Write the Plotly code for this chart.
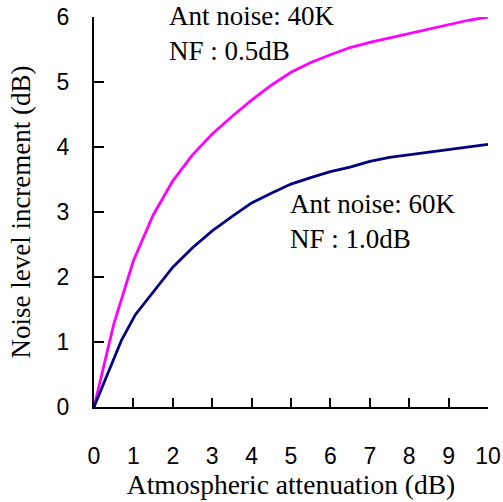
import plotly.graph_objects as go

# Data
x_40k = [0, 0.5, 1, 1.5, 2, 2.5, 3, 3.5, 4, 4.5, 5, 5.5, 6, 6.5, 7, 7.5, 8, 8.5, 9, 9.5, 10]
y_40k = [0, 1.27, 2.25, 2.95, 3.48, 3.88, 4.2, 4.47, 4.72, 4.95, 5.15, 5.3, 5.42, 5.53, 5.61, 5.68, 5.75, 5.82, 5.89, 5.95, 6.0]

x_60k = [0, 0.35, 0.7, 1.05, 1.5, 2, 2.5, 3, 3.5, 4, 4.5, 5, 5.5, 6, 6.5, 7, 7.5, 8, 8.5, 9, 9.5, 10]
y_60k = [0, 0.53, 1.03, 1.42, 1.77, 2.15, 2.45, 2.71, 2.93, 3.14, 3.29, 3.43, 3.53, 3.62, 3.69, 3.78, 3.84, 3.88, 3.92, 3.97, 4.01, 4.04]

x_ticks = [0, 1, 2, 3, 4, 5, 6, 7, 8, 9, 10]
y_ticks = [0, 1, 2, 3, 4, 5, 6]

label_40k = "Ant noise: 40K<br>NF : 0.5dB"
label_60k = "Ant noise: 60K<br>NF : 1.0dB"

serif = "Liberation Serif, Times New Roman, serif"
sans = "Liberation Sans, Arial, sans-serif"

fig = go.Figure()
fig.add_trace(go.Scatter(x=x_40k, y=y_40k, mode="lines",
                         line=dict(color="#ff00ff", width=2.8), showlegend=False))
fig.add_trace(go.Scatter(x=x_60k, y=y_60k, mode="lines",
                         line=dict(color="#000080", width=2.8), showlegend=False))

fig.add_annotation(x=0.186, y=1.045, xref="paper", yref="paper", text=label_40k, showarrow=False,
                   xanchor="left", yanchor="top", align="left",
                   font=dict(family=serif, size=27, color="black"))
fig.add_annotation(x=0.492, y=0.563, xref="paper", yref="paper", text=label_60k, showarrow=False,
                   xanchor="left", yanchor="top", align="left",
                   font=dict(family=serif, size=27, color="black"))

fig.update_layout(
    width=503, height=502,
    margin=dict(l=94, r=15, t=17, b=95),
    paper_bgcolor="white", plot_bgcolor="white",
    xaxis=dict(range=[0, 10], tickvals=x_ticks, ticks="inside", ticklen=9, tickwidth=2,
               tickcolor="black", showline=True, linecolor="black", linewidth=2,
               showgrid=False, zeroline=False, ticklabelstandoff=27, automargin=False,
               tickfont=dict(family=sans, size=23, color="black"),
               title=dict(text="Atmospheric attenuation (dB)", standoff=4,
                          font=dict(family=serif, size=27.5, color="black"))),
    yaxis=dict(range=[0, 6], tickvals=y_ticks, ticks="inside", ticklen=10, tickwidth=2,
               tickcolor="black", showline=True, linecolor="black", linewidth=2,
               showgrid=False, zeroline=False, ticklabelstandoff=18, automargin=False,
               tickfont=dict(family=sans, size=23, color="black"),
               title=dict(text="Noise level increment (dB)", standoff=18,
                          font=dict(family=serif, size=27, color="black"))),
)

fig.write_html("out.html")
